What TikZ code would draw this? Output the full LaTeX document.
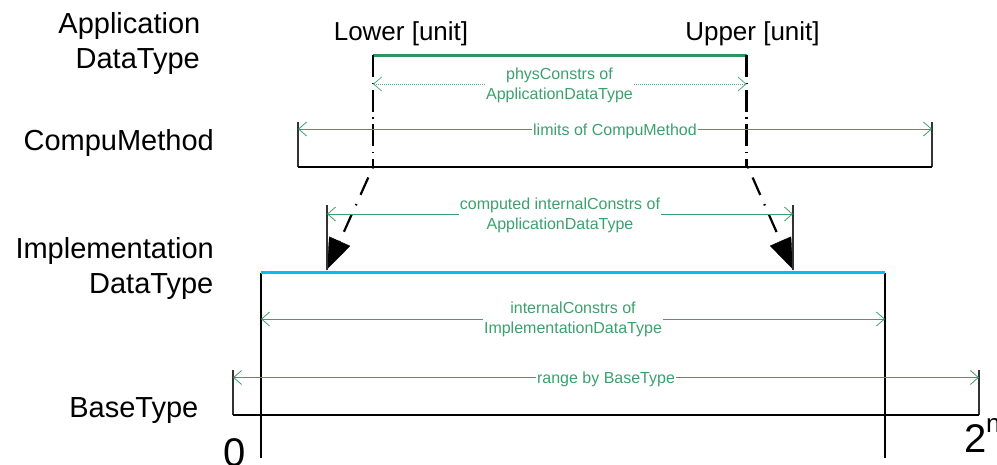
\documentclass[tikz,border=0pt]{standalone}
\usepackage{fontspec}
\setmainfont{Liberation Sans}
\usetikzlibrary{arrows.meta}
\definecolor{dimgreen}{RGB}{60,160,110}
\definecolor{topgreen}{RGB}{45,150,95}
\definecolor{implcyan}{RGB}{0,190,240}
\begin{document}
\begin{tikzpicture}[x=1pt,y=-1pt,
  rowlabel/.style={anchor=base east,inner sep=0pt,font=\fontsize{29}{35}\selectfont},
  unitlabel/.style={anchor=base,inner sep=0pt,font=\fontsize{26}{31}\selectfont},
  biglabel/.style={anchor=base west,inner sep=0pt,font=\fontsize{40}{48}\selectfont},
  dimtext/.style={inner xsep=1pt,inner ysep=0pt,text=dimgreen,align=center,font=\fontsize{16}{20}\selectfont},
  dimline/.style={draw=dimgreen,line width=0.8pt},
  dimdotted/.style={draw=dimgreen!85,line width=0.8pt,dash pattern=on 1pt off 1pt},
  barbL/.style={{Straight Barb[length=8pt,width=14pt]}-},
  barbR/.style={-{Straight Barb[length=8pt,width=14pt]}},
  tick/.style={draw=black!80,line width=1.2pt},
  vdashdot/.style={draw=black,line width=2.2pt,dash pattern=on 22pt off 5.5pt on 1.5pt off 5.5pt},
  sdashdot/.style={draw=black,line width=2.2pt,dash pattern=on 1.5pt off 10pt on 19pt off 10pt,
    -{Triangle[length=31pt,width=23pt,line width=0.4pt]}},
]
\useasboundingbox (0,0) rectangle (997,464);

% row labels
\node[rowlabel] (appA) at (200.5,33) {Application};
\node[rowlabel] (appB) at (200,68) {DataType};
\node[rowlabel] (compu) at (214,150) {CompuMethod};
\node[rowlabel] (implA) at (214,258) {Implementation};
\node[rowlabel] (implB) at (213.5,293) {DataType};
\node[rowlabel] (base) at (198.5,417) {BaseType};

% unit labels
\node[unitlabel] (lower) at (401,40) {Lower [unit]};
\node[unitlabel] (upper) at (752.5,40) {Upper [unit]};

% 0 and 2^n
\node[biglabel] (zero) at (223.5,466) {0};
\node[biglabel] (two) at (964,452) {2};
\node[anchor=base west,inner sep=0pt,font=\fontsize{26}{30}\selectfont] (nexp) at (986,432.5) {n};

% coordinates
\coordinate (aL) at (373,55);
\coordinate (aR) at (746.5,55);
\coordinate (cL) at (298,167);
\coordinate (cR) at (932,167);
\coordinate (cLt) at (298,122);
\coordinate (cRt) at (932,122);
\coordinate (caL) at (373,167);
\coordinate (caR) at (746.5,167);
\coordinate (tipL) at (327,269.5);
\coordinate (tipR) at (793,269.5);
\coordinate (kLt) at (327,205);
\coordinate (kRt) at (793,205);
\coordinate (iL) at (261,272.5);
\coordinate (iR) at (885,272.5);
\coordinate (iLb) at (261,458);
\coordinate (iRb) at (885,458);
\coordinate (bL) at (233,415);
\coordinate (bR) at (979,415);
\coordinate (bLt) at (233,370);
\coordinate (bRt) at (979,370);

% ApplicationDataType bar
\draw[topgreen,line width=3pt] (aL) -- (aR);
\draw[vdashdot] (aL) -- (caL);
\draw[vdashdot] (aR) -- (caR);

% CompuMethod bar
\draw[tick] (cLt) -- (cL);
\draw[tick] (cRt) -- (cR);
\draw[black,line width=2pt] (cL) -- (cR);

% computed projections
\draw[sdashdot] (caL) -- (tipL);
\draw[sdashdot] ([xshift=1.5pt]caR) -- (tipR);
\draw[tick] (kLt) -- (tipL);
\draw[tick] (kRt) -- (tipR);

% ImplementationDataType bar
\draw[tick,black] (iL) -- (iLb);
\draw[tick,black] (iR) -- (iRb);
\draw[implcyan,line width=2.5pt] (iL) -- (iR);

% BaseType bar
\draw[tick] (bLt) -- (bL);
\draw[tick] (bRt) -- (bR);
\draw[black,line width=2.5pt] (bL) -- (bR);

% dimension: physConstrs
\node[dimtext,anchor=north] (phys) at (559.5,67.3) {physConstrs of\\ApplicationDataType};
\coordinate (pL) at (373,84);
\coordinate (pR) at (746.5,84);
\draw[dimdotted,barbL] (pL) -- (pL -| phys.west);
\draw[dimdotted,barbR] (pR -| phys.east) -- (pR);

% dimension: limits
\node[dimtext,anchor=base] (lim) at (615,135) {limits of CompuMethod};
\coordinate (lL) at (298,129);
\coordinate (lR) at (932,129);
\draw[dimline,barbL] (lL) -- (lL -| lim.west);
\draw[dimline,barbR] (lR -| lim.east) -- (lR);

% dimension: computed internalConstrs
\node[dimtext,anchor=north] (comp) at (560,197.3) {computed internalConstrs of\\ApplicationDataType};
\coordinate (mL) at (327,214);
\coordinate (mR) at (793,214);
\draw[dimline,barbL] (mL) -- (mL -| comp.west);
\draw[dimline,barbR] (mR -| comp.east) -- (mR);

% dimension: internalConstrs
\node[dimtext,anchor=north] (intc) at (573,302) {internalConstrs of\\ImplementationDataType};
\coordinate (nL) at (261,319);
\coordinate (nR) at (885,319);
\draw[dimline,barbL] (nL) -- (nL -| intc.west);
\draw[dimline,barbR] (nR -| intc.east) -- (nR);

% dimension: range
\node[dimtext,anchor=base] (rng) at (606,383.5) {range by BaseType};
\coordinate (rL) at (233,377.5);
\coordinate (rR) at (979,377.5);
\draw[dimline,barbL] (rL) -- (rL -| rng.west);
\draw[dimline,barbR] (rR -| rng.east) -- (rR);
\end{tikzpicture}
\end{document}
